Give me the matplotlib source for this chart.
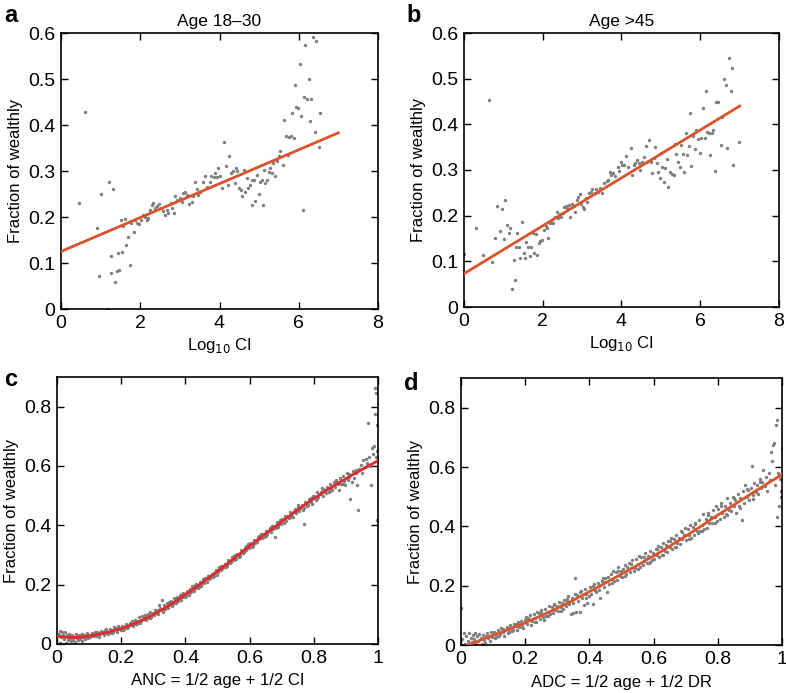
import matplotlib
matplotlib.use("Agg")
import matplotlib.pyplot as plt

plt.rcParams['font.family'] = ['Liberation Sans', 'DejaVu Sans']

# --- panel a: Age 18-30 ---
a_x = [0.46, 0.61, 0.90, 0.95, 1.00, 1.15, 1.21, 1.32, 1.27, 1.26, 1.36, 1.41, 1.47, 1.45, 1.55,
       1.52, 1.62, 1.57, 1.64, 1.70, 1.73, 1.77, 1.83, 1.87, 1.91, 1.98, 2.01, 2.06, 2.11, 2.16,
       2.20, 2.25, 2.29, 2.33, 2.37, 2.42, 2.48, 2.52, 2.57, 2.63, 2.67, 2.71, 2.77, 2.81, 2.84,
       2.88, 2.94, 3.00, 3.05, 3.09, 3.14, 3.19, 3.24, 3.30, 3.33, 3.37, 3.42, 3.47, 3.51, 3.58,
       3.64, 3.68, 3.75, 3.79, 3.85, 3.89, 3.93, 3.97, 4.02, 4.06, 4.12, 4.16, 4.21, 4.24, 4.29,
       4.34, 4.38, 4.42, 4.45, 4.49, 4.54, 4.57, 4.61, 4.65, 4.69, 4.73, 4.77, 4.82, 4.83, 4.88,
       4.90, 4.94, 4.99, 5.03, 5.06, 5.09, 5.13, 5.16, 5.20, 5.24, 5.28, 5.32, 5.36, 5.41, 5.45,
       5.49, 5.53, 5.60, 5.64, 5.68, 5.72, 5.75, 5.80, 5.84, 5.87, 5.90, 5.94, 5.97, 6.02, 6.06,
       6.10, 6.14, 6.17, 6.21, 6.25, 6.28, 6.32, 6.36, 6.40, 6.43, 6.50, 6.54]
a_y = [0.230, 0.428, 0.176, 0.072, 0.250, 0.000, 0.277, 0.260, 0.115, 0.078, 0.058, 0.083, 0.085, 0.121, 0.125,
       0.194, 0.196, 0.181, 0.139, 0.157, 0.095, 0.186, 0.167, 0.194, 0.188, 0.185, 0.194, 0.205, 0.201, 0.194,
       0.197, 0.216, 0.226, 0.231, 0.219, 0.224, 0.229, 0.219, 0.212, 0.205, 0.216, 0.208, 0.230, 0.219, 0.208,
       0.245, 0.237, 0.241, 0.232, 0.252, 0.255, 0.248, 0.229, 0.232, 0.245, 0.277, 0.261, 0.247, 0.255, 0.277,
       0.290, 0.266, 0.277, 0.290, 0.286, 0.295, 0.288, 0.306, 0.290, 0.264, 0.363, 0.311, 0.270, 0.332, 0.295,
       0.299, 0.274, 0.306, 0.299, 0.263, 0.259, 0.245, 0.303, 0.255, 0.284, 0.263, 0.270, 0.281, 0.226, 0.281,
       0.234, 0.292, 0.250, 0.277, 0.281, 0.226, 0.303, 0.274, 0.281, 0.297, 0.306, 0.295, 0.317, 0.290, 0.321,
       0.332, 0.343, 0.313, 0.410, 0.377, 0.335, 0.374, 0.377, 0.427, 0.372, 0.488, 0.440, 0.437, 0.533, 0.420,
       0.216, 0.461, 0.574, 0.457, 0.499, 0.408, 0.457, 0.591, 0.384, 0.583, 0.352, 0.427]
a_fit_x = [0.0, 7.0]
a_fit_y = [0.125, 0.383]

# --- panel b: Age >45 ---
b_x = [0.00, 0.31, 0.48, 0.63, 0.70, 0.79, 0.85, 0.91, 0.96, 1.02, 1.05, 1.09, 1.14, 1.18, 1.21,
       1.26, 1.29, 1.31, 1.35, 1.40, 1.43, 1.48, 1.52, 1.56, 1.58, 1.63, 1.67, 1.69, 1.75, 1.78,
       1.82, 1.85, 1.90, 1.94, 1.98, 2.02, 2.07, 2.12, 2.14, 2.18, 2.22, 2.26, 2.32, 2.35, 2.40,
       2.43, 2.47, 2.51, 2.54, 2.58, 2.62, 2.66, 2.70, 2.74, 2.79, 2.83, 2.87, 2.90, 2.94, 2.96,
       3.01, 3.05, 3.09, 3.13, 3.18, 3.22, 3.26, 3.32, 3.36, 3.40, 3.45, 3.50, 3.56, 3.62, 3.66,
       3.70, 3.74, 3.79, 3.84, 3.90, 3.94, 3.98, 4.02, 4.07, 4.12, 4.17, 4.23, 4.27, 4.31, 4.35,
       4.40, 4.45, 4.48, 4.53, 4.57, 4.61, 4.66, 4.70, 4.74, 4.78, 4.83, 4.86, 4.89, 4.93, 4.97,
       5.01, 5.04, 5.07, 5.11, 5.16, 5.19, 5.24, 5.28, 5.33, 5.36, 5.39, 5.44, 5.48, 5.52, 5.55,
       5.60, 5.63, 5.66, 5.71, 5.73, 5.77, 5.82, 5.86, 5.90, 5.94, 5.99, 6.03, 6.07, 6.11, 6.14,
       6.18, 6.22, 6.26, 6.29, 6.33, 6.37, 6.41, 6.46, 6.53, 6.56, 6.60, 6.65, 6.68, 6.72, 6.77,
       6.80, 6.83, 6.99]
b_y = [0.117, 0.173, 0.113, 0.454, 0.099, 0.151, 0.222, 0.167, 0.214, 0.149, 0.234, 0.179, 0.161, 0.172, 0.040,
       0.102, 0.059, 0.132, 0.162, 0.132, 0.108, 0.187, 0.119, 0.108, 0.143, 0.132, 0.111, 0.132, 0.161, 0.119,
       0.159, 0.113, 0.141, 0.145, 0.146, 0.168, 0.177, 0.172, 0.152, 0.184, 0.187, 0.183, 0.198, 0.209, 0.194,
       0.203, 0.198, 0.206, 0.220, 0.222, 0.216, 0.223, 0.198, 0.225, 0.221, 0.209, 0.234, 0.241, 0.247, 0.225,
       0.220, 0.214, 0.238, 0.230, 0.249, 0.252, 0.258, 0.250, 0.258, 0.252, 0.260, 0.249, 0.272, 0.276, 0.278,
       0.296, 0.289, 0.293, 0.287, 0.307, 0.298, 0.318, 0.312, 0.310, 0.331, 0.307, 0.348, 0.289, 0.311, 0.316,
       0.322, 0.315, 0.300, 0.318, 0.329, 0.352, 0.318, 0.366, 0.318, 0.293, 0.327, 0.351, 0.316, 0.296, 0.282,
       0.337, 0.307, 0.274, 0.304, 0.324, 0.262, 0.296, 0.291, 0.288, 0.356, 0.335, 0.317, 0.307, 0.355, 0.335,
       0.295, 0.380, 0.333, 0.353, 0.424, 0.309, 0.374, 0.346, 0.388, 0.367, 0.338, 0.371, 0.435, 0.371, 0.472,
       0.384, 0.382, 0.333, 0.380, 0.388, 0.298, 0.448, 0.448, 0.355, 0.417, 0.500, 0.487, 0.348, 0.545, 0.473,
       0.523, 0.312, 0.362]
b_fit_x = [0.0, 7.0]
b_fit_y = [0.073, 0.440]

# --- panel c: ANC ---
c_x = [0.002, 0.004, 0.006, 0.008, 0.010, 0.012, 0.015, 0.017, 0.019,
       0.022, 0.025, 0.028, 0.031, 0.034, 0.037, 0.039,
       0.042, 0.045, 0.048, 0.051, 0.054, 0.057, 0.059,
       0.062, 0.065, 0.068, 0.071, 0.074, 0.077, 0.079,
       0.082, 0.085, 0.088, 0.091, 0.094, 0.097,
       0.101, 0.104, 0.108, 0.112, 0.116, 0.119,
       0.122, 0.126, 0.130, 0.134, 0.138, 0.142, 0.146, 0.150, 0.154, 0.158,
       0.162, 0.166, 0.170, 0.174, 0.178, 0.182, 0.186, 0.190, 0.194, 0.198,
       0.202, 0.206, 0.210, 0.214, 0.218, 0.222, 0.226, 0.230, 0.234, 0.238,
       0.242, 0.246, 0.250, 0.254, 0.258, 0.262, 0.266, 0.270, 0.274, 0.278,
       0.282, 0.286, 0.290, 0.294, 0.298, 0.302, 0.306, 0.310, 0.314, 0.318,
       0.322, 0.326, 0.330, 0.334, 0.338, 0.342, 0.346, 0.350, 0.354, 0.358,
       0.362, 0.366, 0.370, 0.374, 0.378, 0.382, 0.386, 0.390, 0.394, 0.398,
       0.402, 0.406, 0.410, 0.414, 0.418, 0.422, 0.426, 0.430, 0.434, 0.438,
       0.442, 0.446, 0.450, 0.454, 0.458, 0.462, 0.466, 0.470, 0.474, 0.478,
       0.482, 0.486, 0.490, 0.494, 0.498, 0.502, 0.506, 0.510, 0.514, 0.518,
       0.522, 0.526, 0.530, 0.534, 0.538, 0.542, 0.546, 0.550, 0.554, 0.558,
       0.562, 0.566, 0.570, 0.574, 0.578, 0.582, 0.586, 0.590, 0.594, 0.598,
       0.602, 0.606, 0.610, 0.614, 0.618, 0.622, 0.626, 0.630, 0.634, 0.638,
       0.642, 0.646, 0.650, 0.654, 0.658, 0.662, 0.666, 0.670, 0.674, 0.678,
       0.682, 0.686, 0.690, 0.694, 0.698, 0.702, 0.706, 0.710, 0.714, 0.718,
       0.722, 0.726, 0.730, 0.734, 0.738, 0.742, 0.746, 0.750, 0.754, 0.758,
       0.762, 0.766, 0.770, 0.774, 0.778, 0.782, 0.786, 0.790, 0.794, 0.798,
       0.802, 0.806, 0.810, 0.814, 0.818, 0.822, 0.826, 0.830, 0.834, 0.838,
       0.842, 0.846, 0.850, 0.854, 0.858, 0.862, 0.866, 0.870, 0.874, 0.878,
       0.882, 0.886, 0.890, 0.894, 0.898, 0.902, 0.906, 0.910, 0.914, 0.918,
       0.922, 0.926, 0.930, 0.934, 0.938, 0.942, 0.946, 0.950, 0.954, 0.958,
       0.962, 0.966, 0.969, 0.972, 0.976, 0.978,
       0.982, 0.985, 0.988, 0.990, 0.992, 0.994, 0.995, 0.996, 0.997, 0.998, 0.999]
c_y = [0.035, 0.000, 0.030, 0.045, 0.002, 0.025, 0.040, 0.000, 0.030,
       0.018, 0.040, 0.002, 0.030, 0.012, 0.035, 0.020,
       0.028, 0.010, 0.032, 0.015, 0.025, 0.008, 0.035,
       0.020, 0.012, 0.030, 0.018, 0.026, 0.010, 0.034,
       0.022, 0.030, 0.016, 0.028, 0.038, 0.020,
       0.030, 0.022, 0.036, 0.026, 0.032, 0.042,
       0.028, 0.040, 0.024, 0.036, 0.045, 0.042, 0.030, 0.038, 0.050, 0.034,
       0.036, 0.052, 0.046, 0.040, 0.058, 0.055, 0.042, 0.060, 0.050, 0.046,
       0.062, 0.048, 0.058, 0.068, 0.054, 0.058, 0.072, 0.064, 0.078, 0.062,
       0.082, 0.066, 0.076, 0.090, 0.072, 0.076, 0.094, 0.084, 0.098, 0.080,
       0.100, 0.086, 0.108, 0.092, 0.104, 0.098, 0.114, 0.106, 0.100, 0.132,
       0.120, 0.150, 0.112, 0.130, 0.118, 0.138, 0.122, 0.132, 0.145, 0.128,
       0.135, 0.155, 0.142, 0.160, 0.146, 0.165, 0.148, 0.158, 0.172, 0.160,
       0.162, 0.180, 0.170, 0.186, 0.174, 0.195, 0.178, 0.188, 0.202, 0.190,
       0.192, 0.210, 0.200, 0.218, 0.205, 0.222, 0.208, 0.230, 0.218, 0.224,
       0.236, 0.225, 0.240, 0.248, 0.232, 0.242, 0.258, 0.250, 0.262, 0.255,
       0.270, 0.258, 0.268, 0.282, 0.272, 0.276, 0.292, 0.284, 0.300, 0.288,
       0.305, 0.292, 0.300, 0.318, 0.306, 0.310, 0.325, 0.318, 0.336, 0.322,
       0.340, 0.328, 0.338, 0.352, 0.342, 0.345, 0.362, 0.355, 0.370, 0.358,
       0.372, 0.360, 0.382, 0.370, 0.380, 0.390, 0.376, 0.398, 0.386, 0.360,
       0.392, 0.410, 0.400, 0.418, 0.405, 0.420, 0.408, 0.428, 0.415, 0.432,
       0.425, 0.445, 0.436, 0.428, 0.450, 0.455, 0.440, 0.470, 0.450, 0.460,
       0.468, 0.452, 0.405, 0.478, 0.465, 0.470, 0.490, 0.480, 0.472, 0.498,
       0.500, 0.486, 0.512, 0.495, 0.505, 0.512, 0.525, 0.500, 0.520, 0.508,
       0.530, 0.512, 0.540, 0.525, 0.520, 0.545, 0.528, 0.552, 0.538, 0.520,
       0.558, 0.540, 0.565, 0.548, 0.535, 0.575, 0.552, 0.562, 0.488, 0.545,
       0.582, 0.560, 0.575, 0.535, 0.452, 0.590, 0.605, 0.575, 0.620, 0.598,
       0.625, 0.610, 0.744, 0.630, 0.600, 0.535,
       0.660, 0.640, 0.667, 0.862, 0.775, 0.630, 0.845, 0.738, 0.418, 0.650, 0.620]
c_x_extra = [0.11, 0.13, 0.15, 0.17, 0.19, 0.21, 0.23, 0.25, 0.27, 0.29, 0.31, 0.33, 0.35, 0.37,
             0.39, 0.41, 0.43, 0.45, 0.47, 0.49, 0.51, 0.53, 0.55, 0.57, 0.59, 0.61, 0.63, 0.65,
             0.67, 0.69, 0.71, 0.73, 0.75, 0.77, 0.79, 0.81, 0.83, 0.85, 0.87, 0.89, 0.91, 0.93]
c_y_extra = [0.034, 0.026, 0.046, 0.038, 0.056, 0.050, 0.072, 0.066, 0.092, 0.086, 0.115, 0.108,
             0.140, 0.138, 0.168, 0.166, 0.198, 0.196, 0.230, 0.228, 0.262, 0.262, 0.296, 0.298,
             0.332, 0.330, 0.365, 0.364, 0.398, 0.396, 0.430, 0.428, 0.462, 0.458, 0.492, 0.488,
             0.522, 0.516, 0.548, 0.540, 0.572, 0.585]
c_fit_x = [0.00, 0.02, 0.04, 0.06, 0.08, 0.10, 0.12, 0.14, 0.16, 0.18, 0.20, 0.22, 0.24, 0.26,
           0.28, 0.30, 0.32, 0.34, 0.36, 0.38, 0.40, 0.42, 0.44, 0.46, 0.48, 0.50, 0.52, 0.54,
           0.56, 0.58, 0.60, 0.62, 0.64, 0.66, 0.68, 0.70, 0.72, 0.74, 0.76, 0.78, 0.80, 0.82,
           0.84, 0.86, 0.88, 0.90, 0.92, 0.94, 0.96, 0.98, 1.00]
c_fit_y = [0.027, 0.024, 0.022, 0.022, 0.024, 0.027, 0.031, 0.035, 0.040, 0.046, 0.052, 0.060,
           0.068, 0.078, 0.088, 0.099, 0.111, 0.124, 0.138, 0.152, 0.167, 0.182, 0.197, 0.213,
           0.229, 0.245, 0.262, 0.279, 0.296, 0.313, 0.330, 0.347, 0.364, 0.380, 0.396, 0.412,
           0.428, 0.444, 0.460, 0.475, 0.490, 0.504, 0.518, 0.532, 0.545, 0.557, 0.570, 0.582,
           0.594, 0.606, 0.618]

# --- panel d: ADC ---
d_x = [0.001, 0.004, 0.008, 0.012, 0.016,
       0.022, 0.025, 0.028, 0.031, 0.034, 0.037,
       0.042, 0.045, 0.048, 0.051, 0.054, 0.057,
       0.062, 0.065, 0.068, 0.071, 0.074, 0.077,
       0.082, 0.085, 0.088, 0.091, 0.094, 0.097,
       0.102, 0.106, 0.110, 0.114, 0.118, 0.122, 0.126, 0.130, 0.134, 0.138,
       0.142, 0.146, 0.150, 0.154, 0.158, 0.162, 0.166, 0.170, 0.174, 0.178,
       0.182, 0.186, 0.190, 0.194, 0.198, 0.202, 0.206, 0.210, 0.214, 0.218,
       0.222, 0.226, 0.230, 0.234, 0.238, 0.242, 0.246, 0.250, 0.254, 0.258,
       0.262, 0.266, 0.270, 0.274, 0.278, 0.282, 0.286, 0.290, 0.294, 0.298,
       0.302, 0.306, 0.310, 0.314, 0.318, 0.322, 0.326, 0.330, 0.334, 0.338,
       0.342, 0.346, 0.350, 0.354, 0.356, 0.358,
       0.362, 0.366, 0.370, 0.374, 0.378, 0.382, 0.386, 0.390, 0.394, 0.398,
       0.402, 0.406, 0.410, 0.414, 0.418, 0.422, 0.426, 0.430, 0.434, 0.438,
       0.442, 0.446, 0.450, 0.454, 0.458, 0.462, 0.466, 0.470, 0.474, 0.478,
       0.482, 0.486, 0.490, 0.494, 0.498, 0.502, 0.506, 0.510, 0.514, 0.518,
       0.522, 0.526, 0.530, 0.534, 0.538, 0.542, 0.546, 0.550, 0.554, 0.558,
       0.562, 0.566, 0.570, 0.574, 0.578, 0.582, 0.586, 0.590, 0.594, 0.598,
       0.602, 0.606, 0.610, 0.614, 0.618, 0.622, 0.626, 0.630, 0.634, 0.638,
       0.642, 0.646, 0.650, 0.654, 0.658, 0.662, 0.666, 0.670, 0.674, 0.678,
       0.682, 0.686, 0.690, 0.694, 0.698, 0.702, 0.706, 0.710, 0.714, 0.718,
       0.722, 0.726, 0.730, 0.734, 0.738, 0.742, 0.746, 0.750, 0.754, 0.758,
       0.762, 0.766, 0.770, 0.774, 0.778, 0.782, 0.786, 0.790, 0.794, 0.798,
       0.802, 0.806, 0.810, 0.814, 0.818, 0.822, 0.826, 0.830, 0.834, 0.838,
       0.842, 0.846, 0.850, 0.854, 0.858, 0.862, 0.866, 0.870, 0.874, 0.878,
       0.882, 0.886, 0.890, 0.894, 0.898, 0.902, 0.905, 0.910, 0.914, 0.918,
       0.922, 0.926, 0.930, 0.934, 0.938, 0.942, 0.946, 0.950, 0.954, 0.958,
       0.962, 0.965, 0.968, 0.971, 0.974, 0.977,
       0.980, 0.983, 0.985, 0.988, 0.990, 0.993, 0.996, 0.998, 0.999]
d_y = [0.125, 0.020, 0.042, 0.005, 0.030,
       0.015, 0.040, 0.000, 0.025, 0.010, 0.035,
       0.020, 0.040, 0.005, 0.030, 0.015, 0.038,
       0.025, 0.002, 0.035, 0.018, 0.008, 0.030,
       0.040, 0.022, 0.032, 0.012, 0.045, 0.028,
       0.045, 0.022, 0.038, 0.050, 0.030, 0.036, 0.058, 0.044, 0.030, 0.052,
       0.062, 0.040, 0.055, 0.068, 0.048, 0.052, 0.072, 0.064, 0.050, 0.078,
       0.062, 0.082, 0.070, 0.058, 0.085, 0.094, 0.072, 0.086, 0.100, 0.068,
       0.080, 0.104, 0.092, 0.076, 0.110, 0.108, 0.088, 0.118, 0.096, 0.085,
       0.122, 0.098, 0.112, 0.130, 0.104, 0.128, 0.108, 0.138, 0.118, 0.132,
       0.115, 0.145, 0.128, 0.140, 0.122, 0.152, 0.130, 0.148, 0.165, 0.138,
       0.105, 0.160, 0.108, 0.172, 0.225, 0.110,
       0.170, 0.150, 0.112, 0.182, 0.160, 0.135, 0.188, 0.172, 0.140, 0.165,
       0.195, 0.172, 0.138, 0.205, 0.185, 0.180, 0.210, 0.198, 0.160, 0.215,
       0.225, 0.195, 0.212, 0.180, 0.230, 0.205, 0.240, 0.222, 0.250, 0.215,
       0.245, 0.220, 0.262, 0.232, 0.250, 0.228, 0.255, 0.270, 0.238, 0.262,
       0.275, 0.245, 0.260, 0.285, 0.250, 0.258, 0.290, 0.272, 0.300, 0.262,
       0.295, 0.268, 0.282, 0.310, 0.275, 0.300, 0.278, 0.318, 0.288, 0.310,
       0.290, 0.322, 0.305, 0.335, 0.298, 0.330, 0.305, 0.345, 0.318, 0.338,
       0.315, 0.350, 0.330, 0.362, 0.325, 0.358, 0.332, 0.372, 0.345, 0.360,
       0.340, 0.385, 0.358, 0.372, 0.395, 0.355, 0.390, 0.372, 0.405, 0.362,
       0.398, 0.370, 0.412, 0.385, 0.378, 0.420, 0.385, 0.405, 0.440, 0.392,
       0.425, 0.395, 0.445, 0.412, 0.430, 0.410, 0.455, 0.430, 0.468, 0.418,
       0.460, 0.425, 0.478, 0.445, 0.432, 0.470, 0.440, 0.495, 0.455, 0.480,
       0.452, 0.500, 0.470, 0.488, 0.445, 0.510, 0.470, 0.495, 0.420, 0.520,
       0.480, 0.540, 0.500, 0.522, 0.490, 0.530, 0.605, 0.505, 0.545, 0.515,
       0.540, 0.510, 0.560, 0.528, 0.548, 0.590, 0.535, 0.565, 0.520, 0.580,
       0.555, 0.650, 0.620, 0.675, 0.680, 0.540,
       0.740, 0.760, 0.430, 0.580, 0.470, 0.560, 0.500, 0.520, 0.665]
d_x_extra = [0.11, 0.13, 0.15, 0.17, 0.19, 0.21, 0.23, 0.25, 0.27, 0.29, 0.31, 0.33, 0.35, 0.37,
             0.39, 0.41, 0.43, 0.45, 0.47, 0.49, 0.51, 0.53, 0.55, 0.57, 0.59, 0.61, 0.63, 0.65,
             0.67, 0.69, 0.71, 0.73, 0.75, 0.77, 0.79, 0.81, 0.83, 0.85, 0.87, 0.89, 0.91, 0.93]
d_y_extra = [0.026, 0.055, 0.044, 0.072, 0.060, 0.092, 0.078, 0.112, 0.098, 0.134, 0.116, 0.155,
             0.142, 0.178, 0.160, 0.200, 0.184, 0.225, 0.208, 0.250, 0.232, 0.274, 0.255, 0.298,
             0.280, 0.324, 0.304, 0.350, 0.330, 0.380, 0.356, 0.408, 0.385, 0.438, 0.412, 0.468,
             0.438, 0.495, 0.462, 0.525, 0.492, 0.550]
d_fit_x = [0.02, 0.04, 0.06, 0.08, 0.10, 0.12, 0.14, 0.16, 0.18, 0.20, 0.22, 0.24, 0.26, 0.28,
           0.30, 0.32, 0.34, 0.36, 0.38, 0.40, 0.42, 0.44, 0.46, 0.48, 0.50, 0.52, 0.54, 0.56,
           0.58, 0.60, 0.62, 0.64, 0.66, 0.68, 0.70, 0.72, 0.74, 0.76, 0.78, 0.80, 0.82, 0.84,
           0.86, 0.88, 0.90, 0.92, 0.94, 0.96, 0.98, 1.00]
d_fit_y = [0.000, 0.008, 0.016, 0.025, 0.033, 0.041, 0.049, 0.058, 0.066, 0.075, 0.085, 0.094,
           0.104, 0.114, 0.124, 0.135, 0.145, 0.157, 0.168, 0.180, 0.191, 0.203, 0.215, 0.227,
           0.239, 0.251, 0.263, 0.275, 0.288, 0.300, 0.313, 0.326, 0.340, 0.353, 0.367, 0.381,
           0.395, 0.409, 0.424, 0.438, 0.452, 0.465, 0.479, 0.493, 0.507, 0.521, 0.534, 0.548,
           0.561, 0.575]

PT_COLOR = "#7f7f7f"
FIT_ORANGE = "#d9532b"
FIT_RED = "#e02a2a"

W, H = 786, 693
fig = plt.figure(figsize=(W / 100, H / 100), dpi=100)


def box(l, t, r, b):
    # pixel box -> figure fraction
    return [l / W, 1 - b / H, (r - l) / W, (b - t) / H]


def style(ax):
    ax.tick_params(direction="in", top=True, right=True, length=5, width=1.0,
                   labelsize=14, pad=4)
    for s in ax.spines.values():
        s.set_linewidth(1.2)
    ax.set_ylabel("Fraction of wealthly", fontsize=12, labelpad=4)


panels = [
    ("a", box(61, 33, 378, 309), [a_x], [a_y], a_fit_x, a_fit_y, FIT_ORANGE),
    ("b", box(464, 33, 779, 307), [b_x], [b_y], b_fit_x, b_fit_y, FIT_ORANGE),
    ("c", box(57, 377, 378, 644), [c_x, c_x_extra], [c_y, c_y_extra], c_fit_x, c_fit_y, FIT_RED),
    ("d", box(461, 378, 782, 645), [d_x, d_x_extra], [d_y, d_y_extra], d_fit_x, d_fit_y, FIT_ORANGE),
]
axes = {}
for name, rect, xs_list, ys_list, fx, fy, col in panels:
    ax = fig.add_axes(rect)
    for xs, ys in zip(xs_list, ys_list):
        ax.scatter(xs, ys, s=6, color=PT_COLOR, linewidths=0, zorder=2)
    ax.plot(fx, fy, color=col, lw=2.0, zorder=3)
    style(ax)
    axes[name] = ax

for k in ("a", "b"):
    ax = axes[k]
    ax.set_xlim(0, 8)
    ax.set_ylim(0, 0.6)
    ax.set_xticks([0, 2, 4, 6, 8])
    ax.set_yticks([0, 0.1, 0.2, 0.3, 0.4, 0.5, 0.6])
    ax.set_yticklabels(["0", "0.1", "0.2", "0.3", "0.4", "0.5", "0.6"])
    ax.set_xlabel("Log$_{10}$ CI", fontsize=12, labelpad=3)

axes["a"].set_title("Age 18–30", fontsize=12.5, pad=5)
axes["b"].set_title("Age >45", fontsize=12.5, pad=5)

for k in ("c", "d"):
    ax = axes[k]
    ax.set_xlim(0, 1)
    ax.set_ylim(0, 0.9)
    ax.set_xticks([0, 0.2, 0.4, 0.6, 0.8, 1])
    ax.set_xticklabels(["0", "0.2", "0.4", "0.6", "0.8", "1"])
    ax.set_yticks([0, 0.2, 0.4, 0.6, 0.8])
    ax.set_yticklabels(["0", "0.2", "0.4", "0.6", "0.8"])

axes["c"].set_xlabel("ANC = 1/2 age + 1/2 CI", fontsize=12, labelpad=5)
axes["d"].set_xlabel("ADC = 1/2 age + 1/2 DR", fontsize=12, labelpad=5)

# panel letters
for letter, (px, py) in {"a": (4, 16), "b": (406, 16), "c": (4, 380), "d": (404, 383)}.items():
    fig.text(px / W, 1 - py / H, letter, fontsize=17, fontweight="bold", va="center", ha="left")

fig.savefig("out.png", dpi=100)
